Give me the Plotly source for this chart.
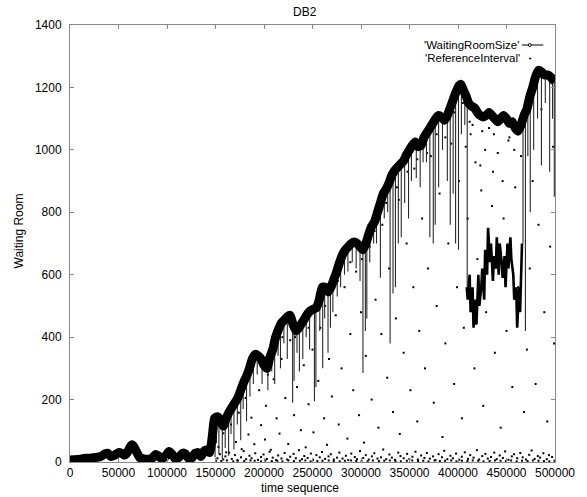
import plotly.graph_objects as go

# ---------------- data (time in thousands) ----------------
WR_T = [0, 4, 8, 12, 16, 20, 24, 28, 32, 36, 39, 42, 46, 50, 53, 56, 59, 62, 64, 66, 69, 72, 76, 80, 84, 88,
        91, 94, 98, 102, 105, 108, 112, 116, 119, 122, 126, 129, 132, 135, 138, 141, 144, 147, 149, 152, 155,
        158, 161, 164, 167, 170, 173, 176, 179, 182, 185, 188, 191, 194, 197, 200, 203, 206, 209, 212, 215,
        218, 221, 224, 227, 230, 233, 236, 239, 242, 245, 248, 251, 254, 257, 260, 263, 266, 269, 272, 275,
        278, 281, 284, 287, 290, 293, 296, 299, 302, 305, 308, 311, 314, 317, 320, 323, 326, 329, 332, 335,
        338, 341, 344, 347, 350, 353, 356, 359, 362, 365, 368, 371, 374, 377, 380, 383, 386, 389, 392, 395,
        398, 401, 403, 405, 408, 411, 414, 417, 420, 423, 426, 429, 432, 435, 438, 441, 444, 447, 450, 453,
        456, 459, 462, 465, 468, 471, 474, 477, 480, 483, 486, 489, 492, 495, 498, 500]
WR_V = [6, 7, 8, 10, 12, 12, 14, 15, 18, 26, 28, 18, 22, 30, 28, 22, 30, 48, 55, 48, 30, 14, 10, 9, 10, 24,
        20, 12, 16, 34, 26, 12, 14, 28, 26, 12, 14, 28, 30, 18, 34, 38, 30, 90, 140, 145, 135,
        115, 140, 160, 175, 190, 205, 230, 255, 275, 300, 330, 345, 340, 330, 310, 300, 335, 360, 400, 425,
        445, 455, 465, 470, 440, 420, 430, 445, 460, 475, 485, 490, 495, 520, 560, 560, 545, 560, 585, 610,
        640, 665, 680, 690, 700, 705, 700, 690, 680, 700, 730, 755, 770, 800, 830, 860, 875, 895, 920, 935,
        945, 955, 965, 985, 1000, 1015, 1025, 1010, 1015, 1040, 1055, 1070, 1085, 1100, 1110, 1105, 1095, 1110, 1135, 1160,
        1185, 1205, 1210, 1195, 1175, 1150, 1140, 1135, 1120, 1110, 1105, 1110, 1120, 1110, 1100, 1090, 1100, 1110, 1100, 1085,
        1090, 1070, 1060, 1080, 1110, 1130, 1170, 1200, 1235, 1255, 1250, 1240, 1240, 1235, 1225, 1220]

# downward excursions of WaitingRoomSize: (time, top, bottom)
DROPS = [(149.5, 140, 15), (151, 145, 60), (153.5, 140, 25), (157, 125, 10), (160, 130, 45), (163.5, 155, 20),
         (166, 170, 90), (169, 185, 40), (172.5, 200, 120), (176, 230, 70), (178.5, 250, 170), (182, 275, 130),
         (185.5, 300, 210), (189, 330, 250), (193, 345, 280), (198, 320, 250), (204, 310, 230), (208, 350, 290),
         (211, 390, 250), (214.5, 420, 340), (217, 440, 300), (220.5, 455, 380), (224, 465, 330), (229.5, 455, 190),
         (231, 430, 260), (234, 425, 350), (236.5, 432, 290), (240, 450, 330), (243.5, 465, 400), (247, 480, 360),
         (252, 492, 195), (253.5, 495, 240), (257.5, 525, 420), (260.5, 560, 300), (262.5, 560, 460), (266, 545, 350),
         (268.5, 555, 430), (271, 575, 480), (275.5, 610, 530), (279, 645, 560), (283, 675, 600), (286.5, 690, 610),
         (291, 700, 640), (295, 700, 620), (299, 690, 580), (302, 680, 285), (304.5, 690, 420), (306, 700, 460),
         (309, 735, 640), (313, 765, 700), (316, 795, 700), (320, 830, 590), (324, 865, 780), (327.5, 885, 800),
         (330, 900, 380), (333, 925, 540), (335.5, 935, 560), (338.5, 945, 700), (341.5, 955, 720), (345, 970, 830),
         (349, 995, 780), (352, 1010, 900), (357, 1020, 910), (361, 1012, 880), (364, 1035, 960), (367.5, 1050, 960),
         (371, 1070, 720), (374.5, 1088, 700), (376.5, 1095, 760), (380, 1110, 880), (384, 1100, 1000), (389, 1110, 900),
         (392, 1130, 760), (395, 1160, 860), (397.5, 1180, 700), (400.5, 1200, 680), (403.5, 1205, 1050),
         (407, 1180, 1080), (409.5, 1160, 560), (467, 1090, 700), (469.5, 1110, 420), (472, 1130, 980),
         (474.5, 1170, 800), (478, 1205, 1000), (482, 1245, 1100), (486, 1250, 950), (490, 1240, 1150),
         (494.5, 1235, 930), (497.5, 1228, 1100), (499.3, 1225, 850)]

# the low stretch of WaitingRoomSize around 410k-466k
LOW_T = [409, 410, 412, 413, 415, 416, 418, 419, 421, 422, 424, 425, 427, 428, 430, 431, 433, 434, 436, 437,
         439, 440, 442, 443, 445, 446, 448, 449, 451, 452, 454, 455, 457, 458, 460, 461, 463, 464, 466]
LOW_V = [560, 520, 600, 480, 560, 430, 520, 440, 600, 500, 560, 620, 520, 680, 600, 750, 640, 700, 580, 660,
         620, 720, 600, 700, 640, 590, 660, 560, 700, 620, 720, 650, 600, 520, 560, 430, 560, 480, 700]

# ReferenceInterval dots: near-zero row
BASE_T = [150.5, 156, 161.8, 168.3, 173, 179.6, 186, 190.4, 196.9, 201.5, 208, 213.7, 219, 225.2, 230.8, 237,
          242.6, 248.1, 255, 260.3, 266.7, 271.9, 278, 283.4, 289.8, 295.1, 300.6, 306.9, 312.2, 318.5, 324,
          329.7, 335.6, 341.1, 347.3, 352.8, 358.9, 364.2, 369.6, 375.8, 381.3, 386.7, 393, 398.4, 404.1, 409.7,
          415.2, 420.8, 426.3, 432.6, 438.1, 443.9, 449.4, 454.8, 460.5, 466, 471.7, 477.2, 483, 488.6, 494.1, 499.5]
BASE_V = [4, 3, 5, 2, 4, 3, 5, 4, 2, 5, 3, 4, 2, 5, 3, 4, 5, 2, 3, 4, 5, 3, 2, 4, 5, 3, 4, 2, 5, 3, 4,
          5, 3, 2, 4, 5, 3, 4, 2, 5, 3, 4, 5, 2, 4, 3, 5, 4, 2, 3, 5, 4, 3, 5, 2, 4, 3, 5, 4, 3, 2, 4]
# low band
LOWDOT_T = [152, 154.5, 158, 160.2, 164, 166.8, 170, 172.5, 176.3, 179, 181.6, 185, 187.2, 191, 193.8, 197, 199.5,
            203, 205.7, 209, 212.4, 214.6, 218, 221.3, 223.9, 227, 230.5, 232.8, 236, 239.2, 241.5, 245, 248.3,
            250.6, 254, 257.4, 259.8, 263, 266.5, 268.9, 272, 275.3, 277.7, 281, 284.4, 286.9, 290, 293.6, 295.8,
            299, 302.3, 304.9, 308, 311.2, 313.7, 317, 320.6, 322.9, 326, 329.3, 331.8, 335, 338.4, 340.7, 344,
            347.5, 349.8, 353, 356.2, 358.6, 362, 365.4, 367.9, 371, 374.3, 376.8, 380, 383.5, 385.8, 389, 392.2,
            394.7, 398, 401.4, 403.9, 407, 410.3, 412.6, 416, 419.5, 421.8, 425, 428.2, 430.7, 434, 437.4, 439.9,
            443, 446.3, 448.6, 452, 455.5, 457.8, 461, 464.2, 466.7, 470, 473.4, 475.9, 479, 482.3, 484.6, 488,
            491.5, 493.8, 497]
LOWDOT_V = [12, 25, 8, 18, 30, 10, 22, 6, 15, 35, 9, 20, 12, 28, 7, 16, 24, 10, 33, 14,
            6, 21, 11, 29, 8, 17, 26, 12, 38, 9, 19, 13, 27, 7, 22, 15, 32, 10, 18, 25,
            8, 14, 30, 11, 20, 6, 27, 16, 9, 35, 13, 22, 8, 18, 28, 11, 15, 40, 9, 24,
            14, 7, 30, 19, 12, 26, 10, 17, 33, 8, 21, 13, 29, 11, 18, 6, 25, 15, 36, 9,
            20, 12, 27, 7, 17, 31, 10, 22, 14, 38, 8, 19, 26, 11, 16, 30, 9, 21, 13, 34,
            7, 18, 25, 12, 29, 15, 8, 23, 37, 10, 19, 14, 28, 9, 22, 16]
# scattered
MID_DOTS = [(153, 48), (158, 92), (161, 31), (166, 120), (171, 64), (174, 158), (177, 41), (181, 205), (184, 88),
            (187, 142), (190, 57), (195, 230), (197, 118), (201, 72), (202, 180), (207, 39), (210, 265), (213, 140),
            (216, 91), (218, 330), (222, 205), (225, 58), (227, 390), (231, 150), (234, 240), (238, 102), (241, 310),
            (243, 47), (246, 185), (250, 360), (251, 95), (256, 260), (258, 430), (262, 140), (265, 55), (267, 330),
            (270, 210), (274, 470), (277, 120), (280, 300), (283, 560), (286, 75), (289, 410), (292, 230), (295, 610),
            (298, 150), (300, 480), (303, 62), (305, 340), (309, 690), (311, 200), (315, 520), (318, 110), (321, 410),
            (322, 760), (327, 270), (329, 620), (333, 160), (336, 460), (339, 840), (340, 90), (344, 350), (347, 700),
            (351, 230), (354, 560), (355, 940), (358, 130), (360, 420), (363, 780), (366, 300), (369, 620), (372, 980),
            (375, 190), (378, 500), (381, 860), (384, 80), (387, 380), (390, 700), (393, 1020), (396, 250), (399, 560),
            (401, 900), (404, 140), (406, 430), (410, 780), (413, 1050), (417, 300), (420, 650), (423, 950), (426, 180),
            (429, 480), (432, 1070), (435, 820), (438, 350), (441, 990), (444, 110), (447, 780), (450, 420), (453, 1040),
            (456, 240), (459, 880), (462, 560), (465, 980), (468, 160), (471, 360), (474, 620), (477, 900), (480, 250),
            (483, 760), (486, 1130), (489, 480), (492, 130), (495, 690), (498, 1010), (499, 380),
            (396, 1120), (405, 1150), (415, 1080), (425, 1060), (437, 1050), (452, 1030), (458, 1000), (428, 1000),
            (412, 1090), (446, 900), (436, 930), (424, 870), (418, 960), (408, 1010), (387, 1040), (378, 1050),
            (368, 990), (358, 970), (348, 930), (337, 880), (326, 830), (314, 740), (301, 650), (289, 640), (276, 580),
            (263, 500), (246, 430), (232, 400), (219, 400), (204, 280), (188, 290)]

X_TICKS = [0, 50000, 100000, 150000, 200000, 250000, 300000, 350000, 400000, 450000, 500000]
Y_TICKS = [0, 200, 400, 600, 800, 1000, 1200, 1400]

# ---------------- figure ----------------
K = 1000
fig = go.Figure()

dot_t = BASE_T + LOWDOT_T + [p[0] for p in MID_DOTS]
dot_v = BASE_V + LOWDOT_V + [p[1] for p in MID_DOTS]
fig.add_trace(go.Scatter(x=[t * K for t in dot_t], y=dot_v, mode="markers",
                         marker=dict(symbol="square", size=2, color="black", line=dict(width=0)),
                         name="'ReferenceInterval'", showlegend=False))

dx, dy = [], []
for t, top, bot in DROPS:
    dx += [t * K, t * K, None]
    dy += [top, bot, None]
fig.add_trace(go.Scatter(x=dx, y=dy, mode="lines", line=dict(color="#2a2a2a", width=1.1),
                         showlegend=False, hoverinfo="skip"))

fig.add_trace(go.Scatter(x=[t * K for t in LOW_T], y=LOW_V, mode="lines",
                         line=dict(color="black", width=2.6), showlegend=False))

fig.add_trace(go.Scatter(x=[t * K for t in WR_T], y=WR_V, mode="lines",
                         line=dict(color="black", width=9, shape="spline", smoothing=0.5),
                         name="'WaitingRoomSize'", showlegend=False))

L, R, T, B = 70, 18, 25, 35
W, H = 587, 497
PW, PH = W - L - R, H - T - B


def px(x):
    return (x - L) / PW


def py(y):
    return 1 - (y - T) / PH


FONT = "Liberation Sans, Arial, Helvetica, sans-serif"

fig.update_layout(
    width=W, height=H, autosize=False,
    margin=dict(l=L, r=R, t=T, b=B, pad=0),
    paper_bgcolor="white", plot_bgcolor="white",
    font=dict(family=FONT, size=12, color="black"),
    showlegend=False,
    xaxis=dict(range=[0, 500000], tickvals=X_TICKS, ticktext=[str(v) for v in X_TICKS],
               showgrid=False, zeroline=False, showline=True, mirror="ticks",
               linecolor="#8a8a8a", linewidth=1, ticks="inside", ticklen=4, tickcolor="#8a8a8a",
               tickfont=dict(size=12, family=FONT), ticklabelstandoff=0, ticklabeloverflow="allow"),
    yaxis=dict(range=[0, 1400], tickvals=Y_TICKS, showgrid=False, zeroline=False,
               showline=True, mirror="ticks", linecolor="#8a8a8a", linewidth=1,
               ticks="inside", ticklen=4, tickcolor="#8a8a8a",
               tickfont=dict(size=12, family=FONT), ticklabelstandoff=5),
)

ann = [
    dict(text="DB2", x=px(312), y=py(12), size=12, xanchor="center"),
    dict(text="time sequence", x=px(307), y=py(488), size=12, xanchor="center"),
    dict(text="Waiting Room", x=px(18), y=py(231), textangle=-90, size=12, xanchor="center"),
    dict(text="'WaitingRoomSize'", x=px(432), y=py(45), xanchor="left", size=11.5),
    dict(text="'ReferenceInterval'", x=px(433), y=py(58), xanchor="left", size=11.5),
]
for a in ann:
    s = a.pop("size")
    fig.add_annotation(xref="paper", yref="paper", yanchor="middle", showarrow=False,
                       font=dict(family=FONT, size=s, color="black"), **a)

fig.add_shape(type="line", xref="paper", yref="paper", x0=px(535), x1=px(557), y0=py(45), y1=py(45),
              line=dict(color="black", width=1))
fig.add_shape(type="circle", xref="paper", yref="paper", x0=px(541.5), x1=px(544.5), y0=py(43.5), y1=py(46.5),
              line=dict(color="black", width=1), fillcolor="white")
fig.add_shape(type="rect", xref="paper", yref="paper", x0=px(543), x1=px(544), y0=py(58), y1=py(59),
              line=dict(color="black", width=1), fillcolor="black")

fig.write_html("out.html")
